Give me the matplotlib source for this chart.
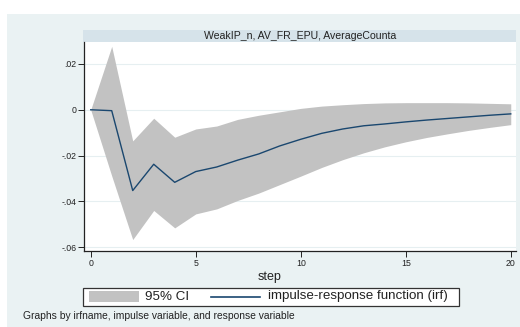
import matplotlib
matplotlib.use("Agg")
import matplotlib.pyplot as plt
from matplotlib.patches import Rectangle
from matplotlib.lines import Line2D

plt.rcParams['font.family'] = ['Liberation Sans', 'DejaVu Sans']

steps = list(range(21))
irf = [0.0, -0.0004, -0.0353, -0.0238, -0.0317, -0.0270, -0.0250, -0.0220, -0.0193,
       -0.0158, -0.0129, -0.0103, -0.0084, -0.0070, -0.0062, -0.0053, -0.0045,
       -0.0038, -0.0031, -0.0024, -0.0018]
ci_upper = [0.0, 0.0277, -0.0136, -0.0037, -0.0120, -0.0084, -0.0071, -0.0042, -0.0024,
            -0.0009, 0.0006, 0.0016, 0.0022, 0.0027, 0.0030, 0.0031, 0.0031,
            0.0031, 0.0030, 0.0028, 0.0026]
ci_lower = [0.0, -0.0289, -0.0567, -0.0440, -0.0516, -0.0455, -0.0433, -0.0396, -0.0364,
            -0.0327, -0.0290, -0.0252, -0.0218, -0.0188, -0.0162, -0.0140, -0.0121,
            -0.0105, -0.0090, -0.0077, -0.0065]
yticks = [0.02, 0.0, -0.02, -0.04, -0.06]
ytick_labels = ['.02', '0', '-.02', '-.04', '-.06']
xticks = [0, 5, 10, 15, 20]
title = "WeakIP_n, AV_FR_EPU, AverageCounta"
note = "Graphs by irfname, impulse variable, and response variable"

W, H = 520, 327
fig = plt.figure(figsize=(W / 100, H / 100), dpi=100)
fig.patch.set_facecolor('white')

def fx(px):
    return px / W

def fy(py):
    return 1 - py / H

bg = '#EAF2F3'
fig.patches.append(Rectangle((fx(7), 0), 1, fy(14), transform=fig.transFigure,
                             facecolor=bg, edgecolor='none', zorder=-10))
# title bar
fig.patches.append(Rectangle((fx(83), fy(42)), fx(516) - fx(83), fy(30) - fy(42),
                             transform=fig.transFigure, facecolor='#D6E3EA',
                             edgecolor='none', zorder=-5))
fig.text(fx(300), fy(36), title, ha='center', va='center', fontsize=7.6, color='#222222')

ax = fig.add_axes([fx(84), fy(251), fx(516) - fx(84), fy(42) - fy(251)])
ax.set_zorder(1)
ax.set_facecolor('white')
ax.fill_between(steps, ci_lower, ci_upper, color='#C2C2C2', linewidth=0, zorder=2)
ax.plot(steps, irf, color='#1A476F', linewidth=1.0, zorder=3)
ax.set_xlim(-0.32, 20.25)
ax.set_ylim(-0.0617, 0.0296)
ax.set_yticks(yticks)
ax.set_yticklabels(ytick_labels)
ax.set_xticks(xticks)
ax.grid(axis='y', color='#E6EFF1', linewidth=0.8, zorder=1)
ax.grid(axis='x', visible=False)
ax.set_axisbelow(True)
for s in ['top', 'right']:
    ax.spines[s].set_visible(False)
ax.spines['left'].set_color('#222222')
ax.spines['bottom'].set_color('#222222')
ax.spines['left'].set_linewidth(0.9)
ax.spines['bottom'].set_linewidth(0.9)
ax.tick_params(axis='both', labelsize=6.3, colors='#222222', length=4, width=0.7, pad=1.5)
ax.set_xlabel('step', fontsize=9, color='#222222', labelpad=4)
ax.xaxis.set_label_coords((fx(270) - fx(84)) / (fx(516) - fx(84)), -0.098)

# legend box
fig.patches.append(Rectangle((fx(82.5), fy(306)), fx(459) - fx(82.5), fy(287.5) - fy(306),
                             transform=fig.transFigure, facecolor='white',
                             edgecolor='#333333', linewidth=0.9, zorder=2))
fig.patches.append(Rectangle((fx(88.5), fy(301.5)), fx(138.5) - fx(88.5), fy(291) - fy(301.5),
                             transform=fig.transFigure, facecolor='#C2C2C2',
                             edgecolor='none', zorder=3))
fig.text(fx(145), fy(296.5), '95% CI', ha='left', va='center', fontsize=9.6, color='#222222')
fig.lines.append(Line2D([fx(211), fx(260)], [fy(296.5), fy(296.5)], transform=fig.transFigure,
                        color='#1A476F', linewidth=1.2, zorder=5))
fig.text(fx(267.5), fy(296.5), 'impulse-response function (irf)', ha='left', va='center',
         fontsize=9.6, color='#222222')

fig.text(fx(23), fy(316), note, ha='left', va='center', fontsize=7.4, color='#222222')

fig.savefig('out.png', dpi=100, facecolor='white')
